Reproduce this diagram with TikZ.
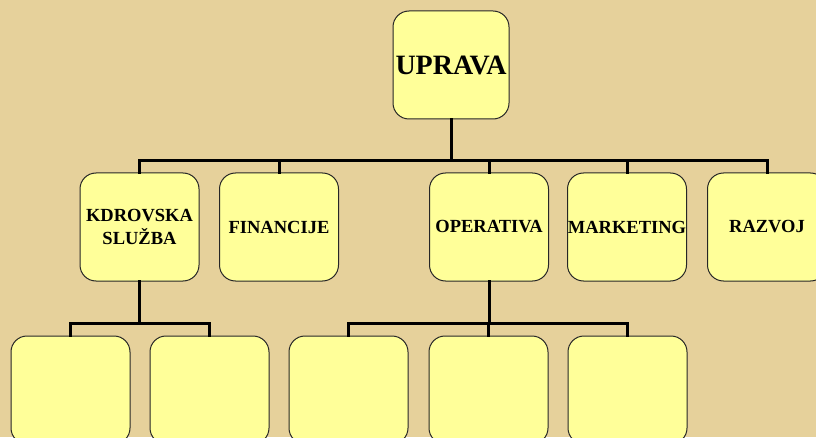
\documentclass[tikz,border=0pt]{standalone}
\usepackage{fontspec}
\setmainfont{Liberation Serif}
\definecolor{papir}{RGB}{230,209,155}
\definecolor{kutija}{RGB}{255,255,153}
\tikzset{
  odjel/.style={draw=black!85, line width=1pt, fill=kutija, rounded corners=16pt,
    minimum width=119pt, minimum height=108pt, align=center,
    font=\bfseries\fontsize{18.5}{23}\selectfont, inner sep=0pt},
  veza/.style={line width=3pt, line cap=rect}
}
\begin{document}
\begin{tikzpicture}[x=1pt, y=1pt]
  \clip (0,0) rectangle (816,437);
  \fill[papir] (0,0) rectangle (816,437);
  % vrh
  \node[odjel, minimum width=116pt, font=\bfseries\fontsize{28}{30}\selectfont] (upr) at (451,372) {UPRAVA};
  % odjeli
  \node[odjel] (kadr) at (139.5,210) {KDROVSKA\\SLUŽBA};
  \node[odjel] (fin)  at (279,210) {FINANCIJE};
  \node[odjel] (oper) at (489,210) {OPERATIVA};
  \node[odjel] (mark) at (627,210) {MARKETING};
  \node[odjel] (razv) at (767,210) {RAZVOJ};
  % prazna polja ispod
  \node[odjel] (k1) at (70.5,47) {};
  \node[odjel] (k2) at (209.5,47) {};
  \node[odjel] (o1) at (348.5,47) {};
  \node[odjel] (o2) at (488.5,47) {};
  \node[odjel] (o3) at (627.5,47) {};
  % linije
  \foreach \n in {kadr,fin,oper,mark,razv}
    \draw[veza] (upr.south) -- (upr.south |- 0,276) -| (\n.north);
  \foreach \n in {k1,k2}
    \draw[veza] (kadr.south) -- (kadr.south |- 0,114) -| (\n.north);
  \foreach \n in {o1,o2,o3}
    \draw[veza] (oper.south) -- (oper.south |- 0,114) -| (\n.north);
\end{tikzpicture}
\end{document}
